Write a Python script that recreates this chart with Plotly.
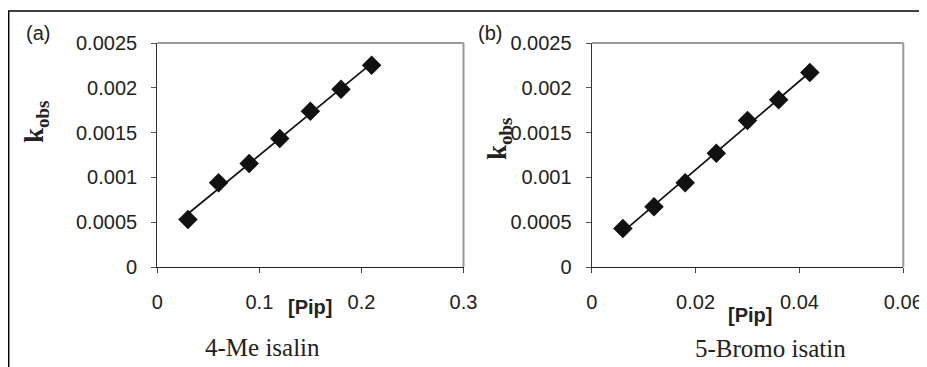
import numpy as np
import plotly.graph_objects as go

# Panel (a): 4-Me isalin
pip_a = [0.03, 0.06, 0.09, 0.12, 0.15, 0.18, 0.21]
kobs_a = [0.000531, 0.00094, 0.001155, 0.001434, 0.001738, 0.001984, 0.002251]
# Panel (b): 5-Bromo isatin
pip_b = [0.006, 0.012, 0.018, 0.024, 0.030, 0.036, 0.042]
kobs_b = [0.000429, 0.000672, 0.00094, 0.001269, 0.001634, 0.001866, 0.002172]

xticks_a = [0, 0.1, 0.2, 0.3]
xticks_b = [0, 0.02, 0.04, 0.06]
yticks = [0, 0.0005, 0.001, 0.0015, 0.002, 0.0025]
ytick_text = ["0", "0.0005", "0.001", "0.0015", "0.002", "0.0025"]

# the page body has an 8px margin; page pixel coords are mapped into the figure
OFF = 8
W, H = 927 - OFF, 367 - OFF
def px(x):
    return (x - OFF) / W
def py(y):
    return 1 - (y - OFF) / H

fig = go.Figure()

def fit_line(xs, ys):
    m, c = np.polyfit(xs, ys, 1)
    xl = [min(xs), max(xs)]
    return xl, [m * v + c for v in xl]

for xs, ys, xa, ya in [(pip_a, kobs_a, "x", "y"), (pip_b, kobs_b, "x2", "y2")]:
    lx, ly = fit_line(xs, ys)
    fig.add_trace(go.Scatter(x=lx, y=ly, mode="lines", line=dict(color="#111", width=1.7),
                             xaxis=xa, yaxis=ya, showlegend=False, hoverinfo="skip"))
    fig.add_trace(go.Scatter(x=xs, y=ys, mode="markers",
                             marker=dict(symbol="diamond", size=15, color="#111"),
                             xaxis=xa, yaxis=ya, showlegend=False))

tickfont = dict(family="Liberation Sans, Arial", size=20, color="#222")
ydom = [py(267), py(43)]

common_y = dict(range=[0, 0.0025], tickvals=yticks, ticktext=ytick_text, showgrid=False,
                zeroline=False, showline=True, linecolor="#333", linewidth=1.3,
                ticks="outside", ticklen=5, tickcolor="#555", tickfont=tickfont,
                ticklabelstandoff=10, domain=ydom, automargin=False)
common_x = dict(showgrid=False, zeroline=False, showline=True, linecolor="#222", linewidth=1.3,
                ticks="outside", ticklen=5, tickcolor="#444", tickfont=tickfont,
                ticklabelstandoff=12, automargin=False)

fig.update_layout(
    width=W, height=H, margin=dict(l=0, r=0, t=0, b=0),
    paper_bgcolor="white", plot_bgcolor="white",
    xaxis=dict(common_x, range=[0, 0.3], tickvals=xticks_a, ticktext=["0", "0.1", "0.2", "0.3"],
               domain=[px(157.3), px(463.5)], anchor="y"),
    yaxis=dict(common_y, anchor="x"),
    xaxis2=dict(common_x, range=[0, 0.06], tickvals=xticks_b, ticktext=["0", "0.02", "0.04", "0.06"],
                domain=[px(591.7), px(903.3)], anchor="y2"),
    yaxis2=dict(common_y, anchor="x2"),
)

shapes = []
for x0, x1 in [(157.3, 463.5), (591.7, 903.3)]:
    shapes.append(dict(type="line", xref="paper", yref="paper", x0=px(x0), x1=px(x1), y0=py(43), y1=py(43),
                       line=dict(color="#999", width=2)))
    shapes.append(dict(type="line", xref="paper", yref="paper", x0=px(x1), x1=px(x1), y0=py(43), y1=py(267),
                       line=dict(color="#999", width=2)))
shapes.append(dict(type="line", xref="paper", yref="paper", x0=px(8), x1=1.0, y0=py(11), y1=py(11),
                   line=dict(color="black", width=1.5)))
shapes.append(dict(type="line", xref="paper", yref="paper", x0=px(8.7), x1=px(8.7), y0=py(11), y1=0,
                   line=dict(color="black", width=1.5)))
fig.update_layout(shapes=shapes)

annots = []
def ann(text, x, y, font, angle=0):
    annots.append(dict(text=text, x=px(x), y=py(y), xref="paper", yref="paper", showarrow=False,
                       xanchor="center", yanchor="middle", font=font, textangle=angle))

sans = dict(family="Liberation Sans, Arial", size=20, color="#222")
sans_b = dict(family="Liberation Sans, Arial", size=20, color="#222", weight="bold")
serif = dict(family="Liberation Serif, Times New Roman", size=25, color="#222")
serif_b = dict(family="Liberation Serif, Times New Roman", size=27, color="#222", weight="bold")

ann("(a)", 37.5, 33, sans)
ann("(b)", 489.5, 33, sans)
ann("k<sub>obs</sub>", 36, 122, serif_b, -90)
ann("k<sub>obs</sub>", 499, 139, serif_b, -90)
ann("<b>[Pip]</b>", 310, 307, sans_b)
ann("<b>[Pip]</b>", 750, 315, sans_b)
ann("4-Me isalin", 262, 347, serif)
ann("5-Bromo isatin", 770, 348, serif)
fig.update_layout(annotations=annots)

fig.write_html("out.html")
